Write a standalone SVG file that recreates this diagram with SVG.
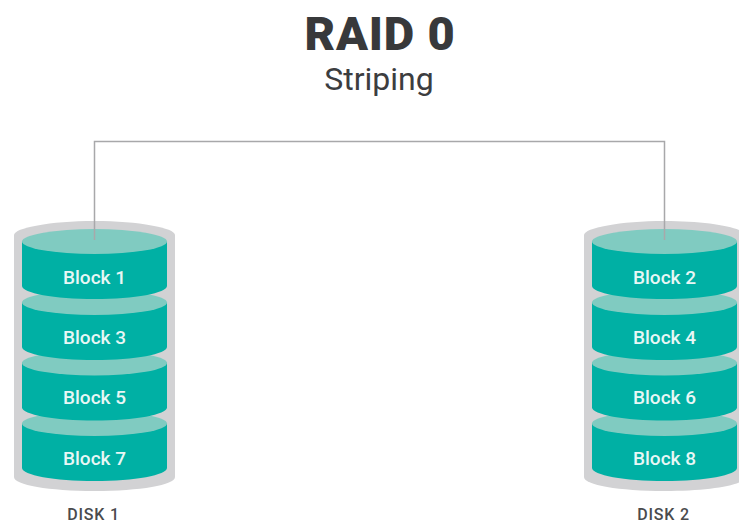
<svg xmlns="http://www.w3.org/2000/svg" width="739" height="524" viewBox="0 0 739 524">
<style>
text{font-family:Roboto,"Liberation Sans",sans-serif;text-anchor:middle}
.title{font-size:47px;font-weight:900;letter-spacing:.8px;fill:#38393b}
.sub{font-size:32px;fill:#3c3d3f}
.blk{font-size:19px;font-weight:500;fill:#e8f7f5}
.disk{font-size:16px;font-weight:500;letter-spacing:.8px;fill:#4a4b4d}
.shell{fill:#d2d2d4}
.side{fill:#00b0a4}
.top{fill:#80cbc1}
.wire{fill:none;stroke:#a8a8aa;stroke-width:1.500}
</style>
<defs>
<g id="shell"><path class="shell" d="M14 235C14 228 50 221 94.500 221S175 228 175 235V477C175 485 140 491 94.500 491S14 485 14 477Z"/></g>
<g id="block"><path class="side" d="M22 241H167V286C167 293 135 299 94.500 299S22 293 22 286Z"/><ellipse class="top" cx="94.500" cy="241.500" rx="72.500" ry="12.500"/></g>
</defs>
<rect width="739" height="524" fill="#fff"/>
<text class="title" x="380" y="50">RAID 0</text>
<text class="sub" x="379" y="90">Striping</text>
<g id="disk1">
<use href="#shell"/>
<use href="#block" y="182"/><use href="#block" y="121.500"/><use href="#block" y="61"/><use href="#block"/>
<text class="blk" x="94.500" y="284">Block 1</text>
<text class="blk" x="94.500" y="344">Block 3</text>
<text class="blk" x="94.500" y="404">Block 5</text>
<text class="blk" x="94.500" y="465">Block 7</text>
<text class="disk" x="93.500" y="520">DISK 1</text>
</g>
<g id="disk2" transform="translate(570 0)">
<use href="#shell"/>
<use href="#block" y="182"/><use href="#block" y="121.500"/><use href="#block" y="61"/><use href="#block"/>
<text class="blk" x="94.500" y="284">Block 2</text>
<text class="blk" x="94.500" y="344">Block 4</text>
<text class="blk" x="94.500" y="404">Block 6</text>
<text class="blk" x="94.500" y="465">Block 8</text>
<text class="disk" x="93.500" y="520">DISK 2</text>
</g>
<g id="connectors"><path class="wire" d="M94.500 240V141.500H664.500V240"/></g>
</svg>
